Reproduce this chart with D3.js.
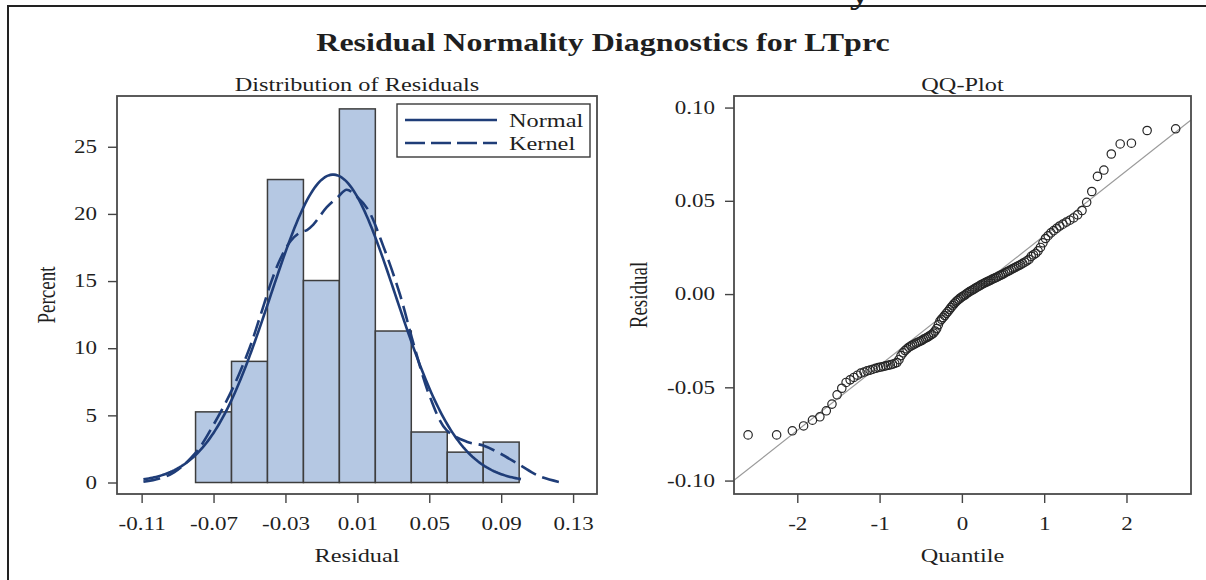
<!DOCTYPE html>
<html>
<head>
<meta charset="utf-8">
<script src="https://cdn.jsdelivr.net/npm/d3@7"></script>
<style>
  body { margin: 0; background: #fff; }
  svg text { font-family: "Liberation Serif", "DejaVu Serif", serif; fill: #1f1f1f; }
</style>
</head>
<body>
<svg id="chart" width="1206" height="580"></svg>
<script>
// histogram: bin starts (width 0.02) and percent of residuals
const binStarts = [-0.08, -0.06, -0.04, -0.02, 0.00, 0.02, 0.04, 0.06, 0.08];
const binWidth = 0.02;
const binPercents = [5.26, 9.02, 22.56, 15.04, 27.82, 11.28, 3.76, 2.26, 3.01];

// fitted normal (mean, std) used for the curve and the QQ reference line
const resMean = -0.0035;
const resStd = 0.0348;
const normalRange = [-0.109, 0.101];

// kernel density (residual, percent)
const kernelX = [-0.109, -0.100, -0.092, -0.080, -0.070, -0.059, -0.050, -0.044, -0.038, -0.033,
  -0.027, -0.022, -0.018, -0.0145, -0.007, -0.0005, 0.004, 0.0096, 0.016, 0.0244,
  0.0337, 0.0411, 0.0503, 0.0596, 0.0708, 0.080, 0.0893, 0.1004, 0.1115, 0.1236];
const kernelPct = [0.05, 0.30, 0.75, 2.2, 4.3, 7.1, 10.0, 12.4, 14.9, 16.6,
  18.0, 18.6, 18.8, 19.2, 20.5, 21.3, 21.8, 21.3, 20.3, 17.6,
  14.0, 10.4, 6.4, 3.9, 3.04, 2.75, 2.17, 1.30, 0.45, 0.0];

// sorted residuals for the QQ plot
const residuals = [
  -0.0755, -0.0755, -0.0733, -0.0707, -0.0676, -0.0658, -0.0626,
  -0.0590, -0.0540, -0.0505, -0.0474, -0.0460, -0.0447, -0.0435, -0.0424, -0.0418, -0.0412, -0.0408, -0.0403,
  -0.0398, -0.0394, -0.0391, -0.0388, -0.0385, -0.0382, -0.0379, -0.0376, -0.0372, -0.0367,
  -0.0352, -0.0330, -0.0315, -0.0303, -0.0294, -0.0285, -0.0279, -0.0273, -0.0268, -0.0263,
  -0.0258, -0.0254, -0.0249, -0.0243, -0.0238, -0.0233, -0.0228, -0.0222, -0.0216, -0.0209,
  -0.0198, -0.0185, -0.0165, -0.0145, -0.0135, -0.0125, -0.0115, -0.0104, -0.0094, -0.0083,
  -0.0072, -0.0062, -0.0052, -0.0043, -0.0035, -0.0028, -0.0021, -0.0015, -0.0010, -0.0005,
  0.0002, 0.0008, 0.0013, 0.0018, 0.0023, 0.0028, 0.0033, 0.0038, 0.0043, 0.0048,
  0.0053, 0.0057, 0.0062, 0.0066, 0.0070, 0.0074, 0.0079, 0.0083, 0.0087, 0.0091,
  0.0096, 0.0100, 0.0105, 0.0110, 0.0116, 0.0121, 0.0126, 0.0131, 0.0137, 0.0142,
  0.0147, 0.0153, 0.0158, 0.0165, 0.0171, 0.0178, 0.0186,
  0.0202, 0.0210, 0.0218, 0.0232, 0.0250, 0.0275, 0.0298, 0.0313, 0.0328, 0.0340,
  0.0352, 0.0365, 0.0375, 0.0386, 0.0396,
  0.0408, 0.0425, 0.0448, 0.0492, 0.0550,
  0.0631, 0.0665, 0.0751,
  0.0805, 0.0809, 0.0877, 0.0886
];

const histTicksX = [-0.11, -0.07, -0.03, 0.01, 0.05, 0.09, 0.13];
const histTicksY = [0, 5, 10, 15, 20, 25];
const qqTicksX = [-2, -1, 0, 1, 2];
const qqTicksY = [-0.10, -0.05, 0.00, 0.05, 0.10];

const SX = 1.28; // the picture is stretched sideways, so is the text
const curveColor = "#1f3d78";

const svg = d3.select("#chart");

function stretch(sel) {
  sel.each(function () {
    const t = d3.select(this);
    const x = +t.attr("x") || 0, y = +t.attr("y") || 0;
    t.attr("x", 0).attr("y", 0).attr("transform", `translate(${x},${y}) scale(${SX},1)`);
  });
}

function label(x, y, txt, size, opts = {}) {
  const t = svg.append("text")
    .attr("text-anchor", opts.anchor || "middle")
    .style("font-size", size + "px")
    .style("font-weight", opts.bold ? "bold" : "normal")
    .text(txt);
  if (opts.rotate) t.attr("transform", `translate(${x},${y}) rotate(-90) scale(1,${SX})`);
  else t.attr("transform", `translate(${x},${y}) scale(${SX},1)`);
  return t;
}

// plain hyphen as the minus sign, like the original
const hyphen = f => d => f(d).replace("\u2212", "-");

// inverse standard normal (Acklam)
function normInv(p) {
  const a = [-3.969683028665376e+01, 2.209460984245205e+02, -2.759285104469687e+02, 1.383577518672690e+02, -3.066479806614716e+01, 2.506628277459239e+00];
  const b = [-5.447609879822406e+01, 1.615858368580409e+02, -1.556989798598866e+02, 6.680131188771972e+01, -1.328068155288572e+01];
  const c = [-7.784894002430293e-03, -3.223964580411365e-01, -2.400758277161838e+00, -2.549732539343734e+00, 4.374664141464968e+00, 2.938163982698783e+00];
  const d = [7.784695709041462e-03, 3.224671290700398e-01, 2.445134137142996e+00, 3.754408661907416e+00];
  const pl = 0.02425;
  if (p < pl) {
    const q = Math.sqrt(-2 * Math.log(p));
    return (((((c[0]*q+c[1])*q+c[2])*q+c[3])*q+c[4])*q+c[5]) / ((((d[0]*q+d[1])*q+d[2])*q+d[3])*q+1);
  }
  if (p > 1 - pl) {
    const q = Math.sqrt(-2 * Math.log(1 - p));
    return -(((((c[0]*q+c[1])*q+c[2])*q+c[3])*q+c[4])*q+c[5]) / ((((d[0]*q+d[1])*q+d[2])*q+d[3])*q+1);
  }
  const q = p - 0.5, r = q * q;
  return (((((a[0]*r+a[1])*r+a[2])*r+a[3])*r+a[4])*r+a[5])*q / (((((b[0]*r+b[1])*r+b[2])*r+b[3])*r+b[4])*r+1);
}

// outer frame (cut at the right and bottom)
svg.append("path").attr("d", "M8,580V6H1206").attr("fill", "none").attr("stroke", "#222").attr("stroke-width", 2);
// tail of a heading cut off above the frame
svg.append("text").attr("text-anchor", "middle").style("font-size", "32px").style("font-weight", "bold")
  .attr("fill", "#111").attr("transform", `translate(860,3) scale(${SX},1)`).text("y");

label(603, 51, "Residual Normality Diagnostics for LTprc", 25, { bold: true });

// ---------- left panel: histogram ----------
const L = { x0: 117, x1: 597, y0: 96, y1: 494 };
const hx = d3.scaleLinear().domain([-0.1237, 0.1433]).range([L.x0, L.x1]);
const hy = d3.scaleLinear().domain([-0.856, 28.78]).range([L.y1, L.y0]);

svg.append("clipPath").attr("id", "clipL").append("rect")
  .attr("x", L.x0).attr("y", L.y0).attr("width", L.x1 - L.x0).attr("height", L.y1 - L.y0);

const gL = svg.append("g");
gL.selectAll("rect.bar").data(binStarts).enter().append("rect")
  .attr("class", "bar")
  .attr("x", d => hx(d))
  .attr("width", d => hx(d + binWidth) - hx(d))
  .attr("y", (d, i) => hy(binPercents[i]))
  .attr("height", (d, i) => hy(0) - hy(binPercents[i]))
  .attr("fill", "#b5c8e3")
  .attr("stroke", "#3d3d3d")
  .attr("stroke-width", 1.5);

const normPts = d3.range(normalRange[0], normalRange[1] + 1e-9, 0.001).map(x => {
  const z = (x - resMean) / resStd;
  return [x, 100 * binWidth * Math.exp(-0.5 * z * z) / (resStd * Math.sqrt(2 * Math.PI))];
});
const line = d3.line().x(d => hx(d[0])).y(d => hy(d[1]));
gL.append("path").datum(normPts).attr("d", line)
  .attr("fill", "none").attr("stroke", curveColor).attr("stroke-width", 2.6).attr("clip-path", "url(#clipL)");

gL.append("path").datum(kernelX.map((x, i) => [x, kernelPct[i]]))
  .attr("d", line.curve(d3.curveCatmullRom))
  .attr("fill", "none").attr("stroke", curveColor).attr("stroke-width", 2.6)
  .attr("stroke-dasharray", "17,7").attr("clip-path", "url(#clipL)");

gL.append("rect").attr("x", L.x0).attr("y", L.y0).attr("width", L.x1 - L.x0).attr("height", L.y1 - L.y0)
  .attr("fill", "none").attr("stroke", "#4a4a4a").attr("stroke-width", 1.8);

const axLx = svg.append("g").attr("transform", `translate(0,${L.y1})`)
  .call(d3.axisBottom(hx).tickValues(histTicksX).tickSize(9).tickPadding(14).tickFormat(hyphen(d3.format(".2f"))));
const axLy = svg.append("g").attr("transform", `translate(${L.x0},0)`)
  .call(d3.axisLeft(hy).tickValues(histTicksY).tickSize(9).tickPadding(11));

// legend
const lg = svg.append("g");
lg.append("rect").attr("x", 397).attr("y", 104).attr("width", 193).attr("height", 53)
  .attr("fill", "#fff").attr("stroke", "#3a3a3a").attr("stroke-width", 1.4);
lg.append("line").attr("x1", 405).attr("x2", 497).attr("y1", 120).attr("y2", 120)
  .attr("stroke", curveColor).attr("stroke-width", 2.6);
lg.append("line").attr("x1", 405).attr("x2", 497).attr("y1", 143).attr("y2", 143)
  .attr("stroke", curveColor).attr("stroke-width", 2.6).attr("stroke-dasharray", "20,6");
label(509, 127, "Normal", 19, { anchor: "start" });
label(509, 150, "Kernel", 19, { anchor: "start" });

label((L.x0 + L.x1) / 2, 91, "Distribution of Residuals", 19);
label((L.x0 + L.x1) / 2, 562, "Residual", 19);
label(55, (L.y0 + L.y1) / 2, "Percent", 19, { rotate: true });

// ---------- right panel: QQ plot ----------
const R = { x0: 734, x1: 1191, y0: 96, y1: 494 };
const qx = d3.scaleLinear().domain([-2.769, 2.784]).range([R.x0, R.x1]);
const qy = d3.scaleLinear().domain([-0.1072, 0.1062]).range([R.y1, R.y0]);

svg.append("clipPath").attr("id", "clipR").append("rect")
  .attr("x", R.x0).attr("y", R.y0).attr("width", R.x1 - R.x0).attr("height", R.y1 - R.y0);

const n = residuals.length;
const qqData = residuals.map((r, i) => ({ q: normInv((i + 1 - 0.375) / (n + 0.25)), r }));

const gR = svg.append("g");
gR.append("line")
  .attr("x1", qx(qx.domain()[0])).attr("y1", qy(resMean + resStd * qx.domain()[0]))
  .attr("x2", qx(qx.domain()[1])).attr("y2", qy(resMean + resStd * qx.domain()[1]))
  .attr("stroke", "#9a9a9a").attr("stroke-width", 1.2).attr("clip-path", "url(#clipR)");

gR.selectAll("circle").data(qqData).enter().append("circle")
  .attr("cx", d => qx(d.q)).attr("cy", d => qy(d.r)).attr("r", 4.2)
  .attr("fill", "none").attr("stroke", "#262626").attr("stroke-width", 1.2);

gR.append("rect").attr("x", R.x0).attr("y", R.y0).attr("width", R.x1 - R.x0).attr("height", R.y1 - R.y0)
  .attr("fill", "none").attr("stroke", "#4a4a4a").attr("stroke-width", 1.8);

const axRx = svg.append("g").attr("transform", `translate(0,${R.y1})`)
  .call(d3.axisBottom(qx).tickValues(qqTicksX).tickSize(9).tickPadding(14).tickFormat(hyphen(d3.format("d"))));
const axRy = svg.append("g").attr("transform", `translate(${R.x0},0)`)
  .call(d3.axisLeft(qy).tickValues(qqTicksY).tickSize(9).tickPadding(10).tickFormat(hyphen(d3.format(".2f"))));

label((R.x0 + R.x1) / 2, 91, "QQ-Plot", 19);
label((R.x0 + R.x1) / 2, 562, "Quantile", 19);
label(647, (R.y0 + R.y1) / 2, "Residual", 19, { rotate: true });

// axis styling
[axLx, axLy, axRx, axRy].forEach(ax => {
  ax.select(".domain").remove();
  ax.selectAll(".tick line").attr("stroke", "#444").attr("stroke-width", 1.4);
  ax.selectAll(".tick text").style("font-size", "18px").attr("fill", "#1f1f1f")
    .style("font-family", '"Liberation Serif", serif').call(stretch);
});
</script>
</body>
</html>
